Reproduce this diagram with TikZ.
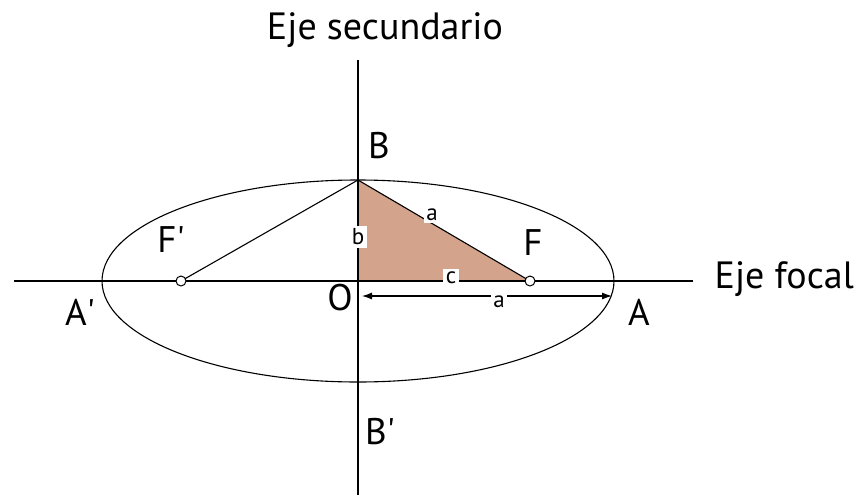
\documentclass[tikz,border=0pt]{standalone}
\usepackage{fontspec}
\setmainfont{PT Sans}
\usetikzlibrary{positioning, arrows.meta}
\definecolor{tri}{HTML}{D3A38B}

\begin{document}
\begin{tikzpicture}[x=1pt, y=-1pt,
    axis/.style={line width=1.4pt},
    curve/.style={line width=1.1pt},
    focus/.style={circle, draw, fill=white, inner sep=0pt, minimum size=10pt, line width=1pt},
    pt/.style={inner sep=0pt, font=\fontsize{37}{37}\selectfont},
    axlabel/.style={inner sep=0pt, font=\fontsize{38}{38}\selectfont},
    small/.style={fill=white, inner sep=2.5pt, font=\fontsize{23}{23}\selectfont},
    link/.style={{Latex[length=10pt,width=7pt]}-{Latex[length=10pt,width=7pt]}, line width=1.1pt}]
    \useasboundingbox (0,0) rectangle (859,498);

    \coordinate (O) at (358,281);
    \coordinate (Bt) at (358,180);
    \coordinate (Fr) at (530,281);
    \coordinate (Fl) at (181,281);

    % triangle b, c, a
    \fill[tri] (O) -- (Bt) -- (Fr) -- cycle;

    \draw[axis] (14,281) coordinate (hl) -- (693,281) coordinate (hr);
    \draw[axis] (358,60) coordinate (vt) -- (358,495) coordinate (vb);
    \draw[curve] (O) ellipse [x radius=256, y radius=101];

    \draw[curve] (Fl) -- (Bt) -- (Fr);

    \coordinate (ar) at (612,296);
    \coordinate (al) at (362,296);
    \draw[link] (al) -- (ar);

    \node[focus] (fl) at (Fl) {};
    \node[focus] (fr) at (Fr) {};

    \node[small] (la) at (432,215) {a};
    \node[small] (lb) at (358,237) {b};
    \node[small] (lc) at (451,278) {c};
    \node[small] (lx) at (499,302) {a};

    \node[axlabel] (sec) at (385,30) {Eje secundario};
    \node[axlabel, anchor=east] (foc) at (854,279) {Eje focal};

    \node[pt] (B)  at (379,146) {B};
    \node[pt] (B2) at (380,432) {B\textquotesingle};
    \node[pt] (Ol) at (340,298) {O};
    \node[pt] (A)  at (639,312) {A};
    \node[pt] (A2) at (80,312) {A\textquotesingle};
    \node[pt] (F)  at (533,243) {F};
    \node[pt] (F2) at (171,240) {F\textquotesingle};
\end{tikzpicture}
\end{document}
